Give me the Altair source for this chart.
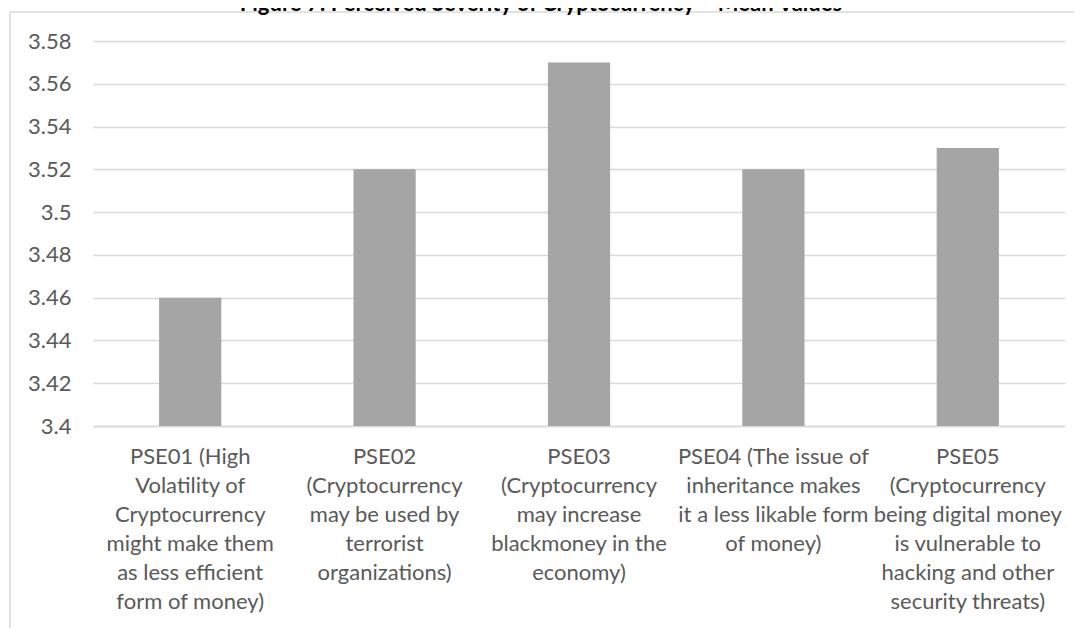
import altair as alt
import pandas as pd

categories = [
    "PSE01 (High\nVolatility of\nCryptocurrency\nmight make them\nas less efficient\nform of money)",
    "PSE02\n(Cryptocurrency\nmay be used by\nterrorist\norganizations)",
    "PSE03\n(Cryptocurrency\nmay increase\nblackmoney in the\neconomy)",
    "PSE04 (The issue of\ninheritance makes\nit a less likable form\nof money)",
    "PSE05\n(Cryptocurrency\nbeing digital money\nis vulnerable to\nhacking and other\nsecurity threats)",
]
values = [3.46, 3.52, 3.57, 3.52, 3.53]
y_ticks = [3.4, 3.42, 3.44, 3.46, 3.48, 3.5, 3.52, 3.54, 3.56, 3.58]
title_text = "Figure 7: Perceived Severity of Cryptocurrency \u2013 Mean Values"

df = pd.DataFrame({"item": categories, "mean": values})
FONT = "Lato"
LABEL_COLOR = "#595959"
GRID = "#d9d9d9"

bars = alt.Chart(df).mark_bar(color="#a5a5a5").encode(
    x=alt.X(
        "item:N",
        sort=None,
        title=None,
        scale=alt.Scale(paddingInner=0.68, paddingOuter=0.34),
        axis=alt.Axis(
            labelAngle=0,
            labelAlign="center",
            labelBaseline="top",
            labelExpr="split(datum.label, '\\n')",
            labelLineHeight=29,
            labelFontSize=22,
            labelFont=FONT,
            labelColor=LABEL_COLOR,
            labelPadding=20,
            labelLimit=400,
            ticks=False,
            domainColor=GRID,
            domainWidth=1.5,
            grid=False,
        ),
    ),
    y=alt.Y(
        "mean:Q",
        title=None,
        scale=alt.Scale(domain=[3.4, 3.58], nice=False, zero=False),
        axis=alt.Axis(
            values=y_ticks,
            format=".2~f",
            labelFontSize=22,
            labelFont=FONT,
            labelColor=LABEL_COLOR,
            labelPadding=22,
            ticks=False,
            domain=False,
            gridColor=GRID,
            gridWidth=1.5,
        ),
    ),
    y2=alt.datum(3.4),
)

one = pd.DataFrame({"t": [title_text]})

frame_left = alt.Chart(one).mark_rule(color=GRID, strokeWidth=1.5).encode(
    x=alt.value(-83), y=alt.value(-29), y2=alt.value(700)
)
frame_top = alt.Chart(one).mark_rule(color=GRID, strokeWidth=1.5).encode(
    x=alt.value(-83), x2=alt.value(1100), y=alt.value(-29)
)

title = alt.Chart(one).mark_text(
    font=FONT, fontSize=22, fontWeight="bold", color="#000000",
    align="center", baseline="alphabetic"
).encode(text="t:N", x=alt.value(448), y=alt.value(-30))

chart = alt.layer(frame_left, frame_top, bars, title).properties(
    width=972,
    height=385,
    autosize=alt.AutoSizeParams(type="none"),
    padding={"left": 85, "top": 33, "right": 9, "bottom": 202},
    background="white",
).configure_view(stroke=None)

chart.save("out.html", embed_options={"renderer": "svg", "actions": False})
